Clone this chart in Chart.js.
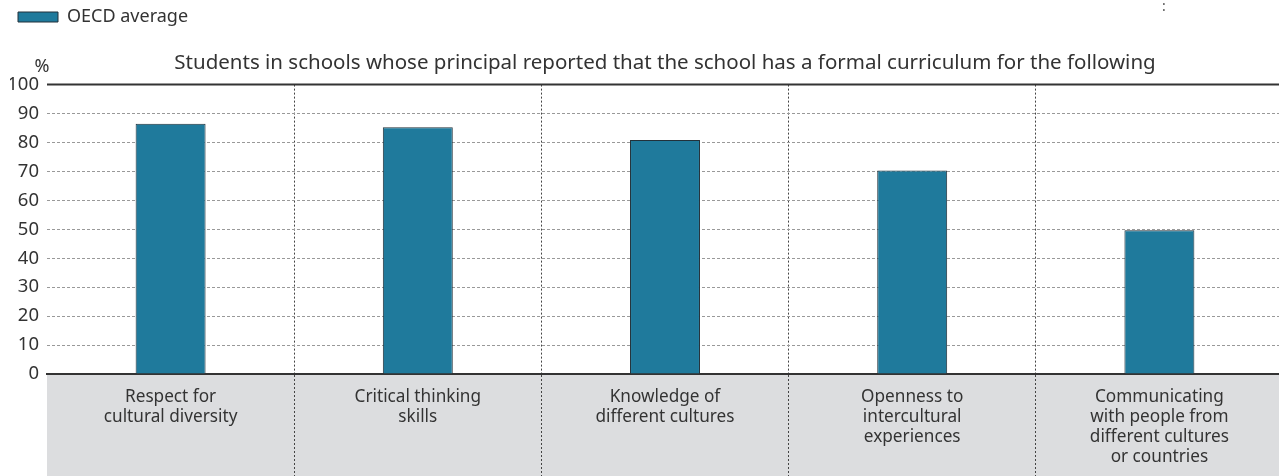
<!DOCTYPE html>
<html>
<head>
<meta charset="utf-8">
<script src="https://cdn.jsdelivr.net/npm/chart.js@4/dist/chart.umd.min.js"></script>
<style>
  html, body { margin: 0; padding: 0; background: #fff; overflow: hidden; }
  #wrap { position: relative; width: 1279px; height: 476px; overflow: hidden; }
  #chart { position: absolute; left: 0; top: 0; }
  #menu { position: absolute; left: 1162px; top: -4px; font: 14px "Noto Sans"; color: #555; }
</style>
</head>
<body>
<div id="wrap">
  <canvas id="chart" width="1283" height="476"></canvas>
  <span id="menu">:</span>
</div>
<script>
// Chart data
const categories = [
  ["Respect for", "cultural diversity"],
  ["Critical thinking", "skills"],
  ["Knowledge of", "different cultures"],
  ["Openness to", "intercultural", "experiences"],
  ["Communicating", "with people from", "different cultures", "or countries"],
];
const oecdAverage = [86.5, 85.3, 80.9, 70.3, 49.7];
const yTicks = [0, 10, 20, 30, 40, 50, 60, 70, 80, 90, 100];
const seriesName = "OECD average";
const chartTitle =
  "Students in schools whose principal reported that the school has a formal curriculum for the following";

const barColor = "#1F7A9C";
const textColor = "#333333";

// gray band under the x axis, solid top line and the "%" unit
const decorations = {
  id: "decorations",
  beforeDraw(chart) {
    const { ctx, chartArea } = chart;
    ctx.save();
    ctx.fillStyle = "#DCDDDF";
    ctx.fillRect(
      chartArea.left,
      chartArea.bottom,
      chartArea.right - chartArea.left,
      chart.height - chartArea.bottom
    );
    ctx.restore();
  },
  afterDraw(chart) {
    const { ctx, chartArea } = chart;
    ctx.save();
    ctx.strokeStyle = "#333";
    ctx.lineWidth = 2;
    ctx.beginPath();
    ctx.moveTo(chartArea.left, chartArea.top);
    ctx.lineTo(chartArea.right, chartArea.top);
    ctx.stroke();

    ctx.fillStyle = textColor;
    ctx.font = '18px "Noto Sans"';
    ctx.textAlign = "center";
    ctx.textBaseline = "middle";
    ctx.fillText("%", chartArea.left - 5, chartArea.top - 18);
    ctx.restore();
  },
};

const ctx = document.getElementById("chart");

new Chart(ctx, {
  type: "bar",
  data: {
    labels: categories,
    datasets: [
      {
        label: seriesName,
        data: oecdAverage,
        backgroundColor: barColor,
        borderColor: "#22313a",
        borderWidth: 1,
        barPercentage: 0.283,
        categoryPercentage: 1,
      },
    ],
  },
  options: {
    responsive: false,
    animation: false,
    layout: { padding: { left: 10, right: 0, top: 0, bottom: 0 } },
    plugins: {
      legend: {
        position: "top",
        align: "start",
        weight: 3000,
        labels: {
          boxWidth: 40,
          boxHeight: 10,
          padding: 8,
          color: textColor,
          font: { family: "Noto Sans", size: 18 },
        },
      },
      title: {
        display: true,
        text: chartTitle,
        fullSize: false,
        color: textColor,
        font: { family: "Noto Sans", size: 20.5, weight: "normal" },
        padding: { top: 15, bottom: 9 },
      },
      tooltip: { enabled: false },
    },
    scales: {
      x: {
        offset: true,
        grid: {
          offset: true,
          drawTicks: true,
          tickLength: 102,
          color: (c) => (c.index === 0 || c.index >= categories.length ? "transparent" : "#444"),
          tickColor: (c) => (c.index === 0 || c.index >= categories.length ? "transparent" : "#444"),
          tickBorderDash: [2, 2],
          lineWidth: 1,
        },
        border: { display: true, color: "#333", width: 2, dash: [2, 2] },
        ticks: {
          padding: -89,
          color: textColor,
          maxRotation: 0,
          autoSkip: false,
          font: { family: "Noto Sans", size: 17.2, lineHeight: 1.16 },
        },
        afterFit: (scale) => {
          scale.height = 102;
        },
      },
      y: {
        min: 0,
        max: 100,
        afterBuildTicks: (scale) => {
          scale.ticks = yTicks.map((v) => ({ value: v }));
        },
        grid: {
          drawTicks: false,
          color: (c) =>
            c.tick && (c.tick.value === 0 || c.tick.value === 100) ? "transparent" : "#999",
          lineWidth: 1,
        },
        border: { display: false, dash: [3, 2] },
        ticks: {
          padding: 8,
          color: textColor,
          font: { family: "Noto Sans", size: 18.5 },
        },
        afterFit: (scale) => {
          scale.width = 37;
        },
      },
    },
  },
  plugins: [decorations],
});
</script>
</body>
</html>
